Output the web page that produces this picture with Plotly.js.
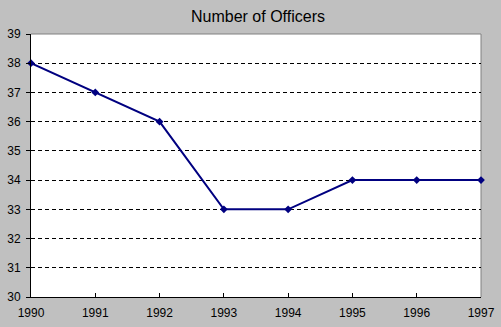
<!DOCTYPE html>
<html>
<head>
<script src="https://cdn.plot.ly/plotly-3.0.1.min.js"></script>
<style>html,body{margin:0;padding:0;background:#c0c0c0;}#chart{width:501px;height:327px;}</style>
</head>
<body>
<div id="chart"></div>
<script>
var years = [1990, 1991, 1992, 1993, 1994, 1995, 1996, 1997];
var officers = [38, 37, 36, 33, 33, 34, 34, 34];
var yTicks = [30, 31, 32, 33, 34, 35, 36, 37, 38, 39];

var trace = {
  x: years,
  y: officers,
  type: 'scatter',
  mode: 'lines+markers',
  line: {color: '#000080', width: 2},
  marker: {symbol: 'diamond', size: 6, color: '#000080'},
  cliponaxis: false,
  hoverinfo: 'skip'
};

var layout = {
  width: 501, height: 327,
  paper_bgcolor: '#c0c0c0',
  plot_bgcolor: '#ffffff',
  margin: {l: 31, r: 20, t: 34, b: 30},
  showlegend: false,
  title: {text: 'Number of Officers', x: 0.515, xanchor: 'center', y: 0.951, yanchor: 'middle', yref: 'container',
          font: {family: 'Liberation Sans, Arial, sans-serif', size: 16, color: '#000'}},
  font: {family: 'Liberation Sans, Arial, sans-serif', size: 12, color: '#000'},
  xaxis: {
    range: [1990, 1997], tickvals: years, ticktext: years.map(String),
    showgrid: false, zeroline: false,
    showline: true, linecolor: '#000', linewidth: 1,
    ticks: 'inside', ticklen: 4, tickcolor: '#000', tickwidth: 1,
    ticklabelstandoff: 5,
    tickfont: {size: 12}, fixedrange: true
  },
  yaxis: {
    range: [30, 39], tickvals: yTicks,
    showgrid: true, gridcolor: '#000', griddash: '4px,3px', gridwidth: 1,
    zeroline: false,
    showline: true, linecolor: '#000', linewidth: 1,
    ticks: 'outside', ticklen: 4, tickcolor: '#000', tickwidth: 1,
    ticklabelstandoff: 3,
    tickfont: {size: 12}, fixedrange: true
  },
  shapes: [
    {type: 'line', xref: 'paper', yref: 'paper', x0: 0, x1: 1, y0: 1, y1: 1, line: {color: '#808080', width: 1}, layer: 'above'},
    {type: 'line', xref: 'paper', yref: 'paper', x0: 1, x1: 1, y0: 0, y1: 1, line: {color: '#808080', width: 1}, layer: 'below'}
  ]
};

Plotly.newPlot('chart', [trace], layout, {displayModeBar: false, staticPlot: true});
</script>
</body>
</html>
